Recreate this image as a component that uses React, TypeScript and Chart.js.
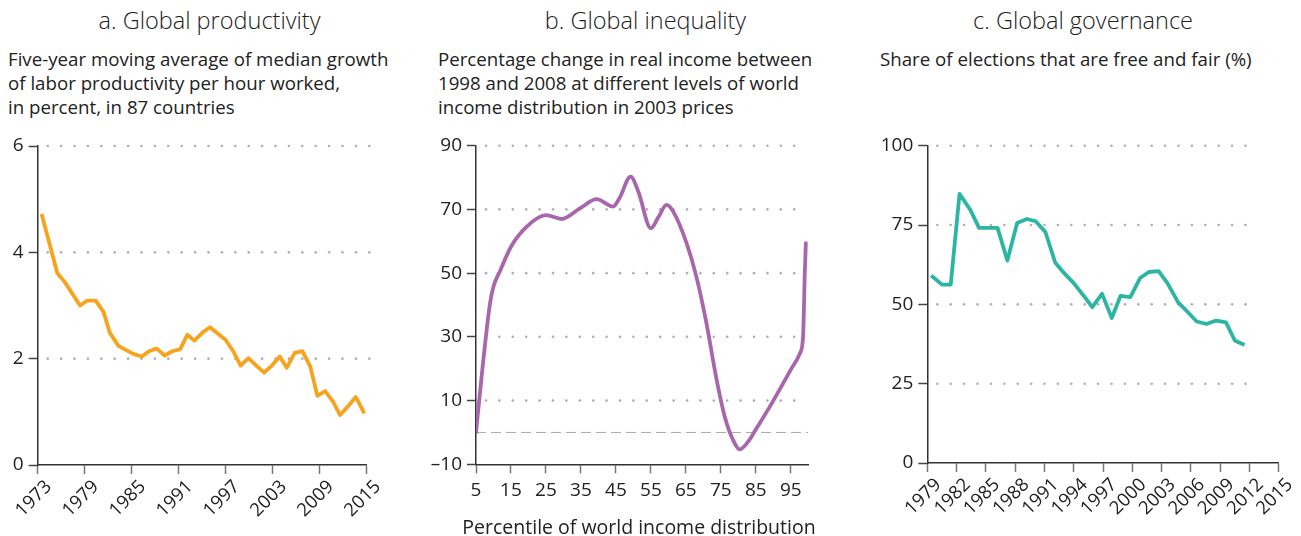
import React, { useEffect, useRef } from "react";
import { Chart, registerables } from "chart.js";

Chart.register(...registerables);

// ---------- Data ----------
// Panel a: Global productivity
const prodYears = [1973.5, 1975.5, 1976.5, 1978.4, 1979.3, 1980.4, 1981.4, 1982.2, 1983.3, 1984.3, 1985.2, 1986.3, 1987.2, 1988.2, 1989.2, 1990.2, 1991.2, 1992.1, 1993.0, 1994.1, 1995.0, 1996.1, 1997.0, 1998.0, 1998.9, 1999.9, 2000.9, 2001.9, 2002.9, 2003.9, 2004.8, 2005.8, 2006.8, 2007.8, 2008.7, 2009.7, 2010.7, 2011.6, 2012.7, 2013.6, 2014.7];
const prodValues = [4.72, 3.61, 3.43, 3.0, 3.09, 3.09, 2.88, 2.49, 2.24, 2.16, 2.09, 2.04, 2.14, 2.19, 2.06, 2.14, 2.18, 2.45, 2.34, 2.5, 2.59, 2.46, 2.35, 2.13, 1.87, 2.01, 1.87, 1.74, 1.87, 2.04, 1.83, 2.11, 2.14, 1.85, 1.3, 1.39, 1.19, 0.94, 1.12, 1.28, 0.97];
const prodXTicks = [1973, 1979, 1985, 1991, 1997, 2003, 2009, 2015];
const prodYTicks = [0, 2, 4, 6];

// Panel b: Global inequality
const ineqPercentiles = [5, 7, 9, 10, 12, 15, 19.5, 25, 29.5, 34.7, 39.5, 44.2, 46, 49.2, 51.4, 55, 57.1, 59.5, 61.4, 65.2, 68, 70.7, 73.8, 76.1, 78.5, 80.4, 82.8, 85.2, 89, 92.8, 95.2, 97.6, 98.5, 99, 99.3];
const ineqValues = [0, 21.7, 40.5, 45.8, 51, 58.3, 64.6, 68.2, 67, 70.3, 73.2, 70.9, 73.5, 80.3, 75.6, 64.1, 67.5, 71.4, 69.3, 59.4, 48.9, 35.3, 16.5, 5, -2.4, -5.3, -2.9, 1.3, 8.1, 15.4, 20.1, 24.8, 30, 50, 59.4];
const ineqZeroLine = [5, 100];
const ineqXTicks = [5, 15, 25, 35, 45, 55, 65, 75, 85, 95];
const ineqYTicks = [-10, 10, 30, 50, 70, 90];

// Panel c: Global governance
const govYears = [1979.4, 1980.5, 1981.4, 1982.3, 1983.4, 1984.3, 1985.3, 1986.2, 1987.2, 1988.2, 1989.2, 1990.1, 1991.1, 1992.1, 1993.0, 1994.0, 1995.0, 1995.9, 1996.9, 1997.9, 1998.8, 1999.8, 2000.8, 2001.7, 2002.7, 2003.6, 2004.7, 2005.7, 2006.6, 2007.6, 2008.6, 2009.6, 2010.5, 2011.5];
const govValues = [59.1, 56.2, 56.2, 84.8, 79.8, 74.1, 74.1, 74.1, 63.8, 75.6, 76.9, 76.2, 72.8, 63.2, 59.9, 56.7, 52.8, 49.1, 53.3, 45.7, 52.7, 52.3, 58.3, 60.2, 60.5, 56.7, 50.6, 47.5, 44.6, 43.8, 44.9, 44.3, 38.6, 37.2];
const govXTicks = [1979, 1982, 1985, 1988, 1991, 1994, 1997, 2000, 2003, 2006, 2009, 2012, 2015];
const govYTicks = [0, 25, 50, 75, 100];

const FONT = "'Open Sans', 'DejaVu Sans', sans-serif";
const TEXT = "#222";

// Dotted horizontal reference lines at y ticks
const dottedGrid = {
  id: "dottedGrid",
  beforeDatasetsDraw(chart: any, _args: any, opts: any) {
    const { ctx, chartArea, scales } = chart;
    const y = scales.y;
    const x = scales.x;
    const startX = chartArea.left + (opts.startOffset ?? 10);
    const endX = x.getPixelForValue(opts.endValue);
    ctx.save();
    ctx.fillStyle = "#b0b0b0";
    const ticks: number[] = opts.values;
    for (const v of ticks) {
      if (opts.skip && opts.skip.includes(v)) continue;
      const py = y.getPixelForValue(v);
      for (let px = startX; px <= endX + 0.5; px += 13.4) {
        ctx.beginPath();
        ctx.arc(px, py, 1.3, 0, Math.PI * 2);
        ctx.fill();
      }
    }
    ctx.restore();
  },
};

function makeTicks(arr: number[]) {
  return (scale: any) => {
    scale.ticks = arr.map((v) => ({ value: v }));
  };
}

type PanelCfg = {
  datasets: any[];
  xMin: number;
  xMax: number;
  yMin: number;
  yMax: number;
  xTicks: number[];
  yTicks: number[];
  yWidth: number;
  xHeight: number;
  padTop: number;
  padRight: number;
  rotate: boolean;
  gridEnd: number;
  gridSkip?: number[];
  yLabel?: (v: number) => string;
};

function Panel({ cfg, style }: { cfg: PanelCfg; style: React.CSSProperties }) {
  const ref = useRef<HTMLCanvasElement | null>(null);
  useEffect(() => {
    if (!ref.current) return;
    const chart = new Chart(ref.current, {
      type: "line",
      data: { datasets: cfg.datasets },
      plugins: [dottedGrid],
      options: {
        animation: false,
        responsive: false,
        maintainAspectRatio: false,
        layout: { padding: { top: cfg.padTop, right: cfg.padRight, left: 0, bottom: 0 } },
        plugins: {
          legend: { display: false },
          tooltip: { enabled: false },
          dottedGrid: { values: cfg.yTicks, endValue: cfg.gridEnd, startOffset: 10, skip: cfg.gridSkip },
        } as any,
        elements: { point: { radius: 0 } },
        scales: {
          x: {
            type: "linear",
            min: cfg.xMin,
            max: cfg.xMax,
            afterBuildTicks: makeTicks(cfg.xTicks),
            afterFit: (s: any) => {
              s.height = cfg.xHeight;
            },
            grid: {
              drawOnChartArea: false,
              drawTicks: true,
              tickLength: 9,
              tickColor: "#777",
              tickWidth: 1.5,
            },
            border: { display: true, color: "#333", width: 1.5 },
            ticks: {
              autoSkip: false,
              maxRotation: cfg.rotate ? 45 : 0,
              minRotation: cfg.rotate ? 45 : 0,
              padding: cfg.rotate ? 2 : 6,
              labelOffset: cfg.rotate ? 11 : 0,
              color: TEXT,
              font: { family: FONT, size: cfg.rotate ? 18.5 : 19 },
              callback: (v: any) => String(v),
            },
          },
          y: {
            type: "linear",
            min: cfg.yMin,
            max: cfg.yMax,
            afterBuildTicks: makeTicks(cfg.yTicks),
            afterFit: (s: any) => {
              s.width = cfg.yWidth;
            },
            grid: {
              drawOnChartArea: false,
              drawTicks: true,
              tickLength: 9,
              tickColor: "#444",
              tickWidth: 1.5,
            },
            border: { display: true, color: "#333", width: 1.5 },
            ticks: {
              padding: 5,
              color: TEXT,
              font: { family: FONT, size: 19 },
              callback: (v: any) => (cfg.yLabel ? cfg.yLabel(Number(v)) : String(v)),
            },
          },
        },
      },
    });
    return () => chart.destroy();
  }, []);
  return (
    <canvas
      ref={ref}
      width={style.width as number}
      height={style.height as number}
      style={{ position: "absolute", ...style }}
    />
  );
}

const titleStyle: React.CSSProperties = {
  position: "absolute",
  top: 4,
  width: 400,
  fontFamily: FONT,
  fontWeight: 300,
  fontSize: 23.5,
  color: TEXT,
  textAlign: "center",
  whiteSpace: "nowrap",
};
const subStyle: React.CSSProperties = {
  position: "absolute",
  top: 47,
  fontFamily: FONT,
  fontSize: 18.7,
  lineHeight: "24px",
  color: TEXT,
  whiteSpace: "nowrap",
};

export default function App() {
  const panelA: PanelCfg = {
    datasets: [
      {
        data: prodYears.map((x, i) => ({ x, y: prodValues[i] })),
        borderColor: "#F8A31E",
        borderWidth: 3.8,
        tension: 0,
        borderJoinStyle: "round",
      },
    ],
    xMin: 1973,
    xMax: 2015,
    yMin: 0,
    yMax: 6,
    xTicks: prodXTicks,
    yTicks: prodYTicks,
    yWidth: 37.7,
    xHeight: 71,
    padTop: 26,
    padRight: 33.3,
    rotate: true,
    gridEnd: 2015.4,
    gridSkip: [0],
  };
  const panelB: PanelCfg = {
    datasets: [
      {
        data: ineqPercentiles.map((x, i) => ({ x, y: ineqValues[i] })),
        borderColor: "#A867AD",
        borderWidth: 3.8,
        cubicInterpolationMode: "monotone",
        borderCapStyle: "round",
      },
      {
        data: ineqZeroLine.map((x) => ({ x, y: 0 })),
        borderColor: "#a8a8a8",
        borderWidth: 1,
        borderDash: [10, 5],
        tension: 0,
      },
    ],
    xMin: 5,
    xMax: 100,
    yMin: -10,
    yMax: 90,
    xTicks: ineqXTicks,
    yTicks: ineqYTicks,
    yWidth: 56,
    xHeight: 71.7,
    padTop: 25.7,
    padRight: 31.7,
    rotate: false,
    gridEnd: 97.6,
    gridSkip: [-10],
    yLabel: (v) => (v < 0 ? "\u2013" + Math.abs(v) : String(v)),
  };
  const panelC: PanelCfg = {
    datasets: [
      {
        data: govYears.map((x, i) => ({ x, y: govValues[i] })),
        borderColor: "#2DB5A3",
        borderWidth: 3.8,
        tension: 0,
        borderJoinStyle: "round",
      },
    ],
    xMin: 1979,
    xMax: 2015,
    yMin: 0,
    yMax: 100,
    xTicks: govXTicks,
    yTicks: govYTicks,
    yWidth: 67.3,
    xHeight: 73,
    padTop: 25.7,
    padRight: 22.3,
    rotate: true,
    gridEnd: 2012.1,
    gridSkip: [0],
  };

  return (
    <div style={{ position: "absolute", left: 0, top: 0, width: 1301, height: 536, background: "#fff", overflow: "hidden" }}>
      <div style={{ ...titleStyle, left: 209.5 - 200 }}>a. Global productivity</div>
      <div style={{ ...titleStyle, left: 645.5 - 200 }}>b. Global inequality</div>
      <div style={{ ...titleStyle, left: 1083 - 200 }}>c. Global governance</div>
      <div style={{ ...subStyle, left: 8 }}>
        Five-year moving average of median growth
        <br />
        of labor productivity per hour worked,
        <br />
        in percent, in 87 countries
      </div>
      <div style={{ ...subStyle, left: 438 }}>
        Percentage change in real income between
        <br />
        1998 and 2008 at different levels of world
        <br />
        income distribution in 2003 prices
      </div>
      <div style={{ ...subStyle, left: 880 }}>Share of elections that are free and fair (%)</div>
      <Panel cfg={panelA} style={{ left: 0, top: 120, width: 400, height: 416 }} />
      <Panel cfg={panelB} style={{ left: 420, top: 120, width: 420, height: 416 }} />
      <Panel cfg={panelC} style={{ left: 860, top: 120, width: 441, height: 416 }} />
      <div
        style={{
          position: "absolute",
          left: 439,
          width: 400,
          top: 513,
          textAlign: "center",
          fontFamily: FONT,
          fontSize: 19.5,
          color: TEXT,
          whiteSpace: "nowrap",
        }}
      >
        Percentile of world income distribution
      </div>
    </div>
  );
}
